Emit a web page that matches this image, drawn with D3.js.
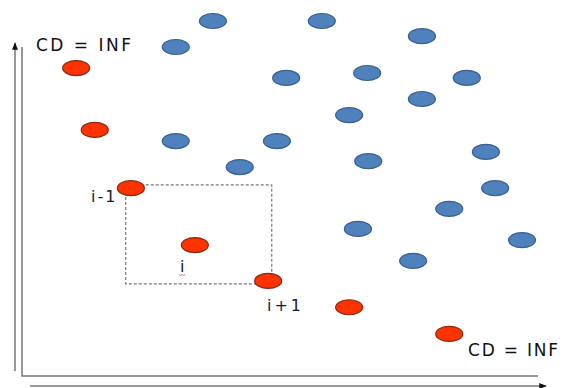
<!DOCTYPE html>
<html>
<head>
<meta charset="utf-8">
<script src="https://cdn.jsdelivr.net/npm/d3@7"></script>
<style>
  body { margin: 0; background: #fff; }
  svg { display: block; }
</style>
</head>
<body>
<div id="canvas"></div>
<script>
/*
 * Data: objective values (f1, f2)
 */
const blueX = [37.0, 58.1, 77.5, 29.8, 51.2, 66.9, 86.2, 77.5, 63.4, 29.8, 49.4, 89.9, 42.2, 67.1, 91.7, 82.8, 65.1, 96.9, 75.8];
const blueY = [107.9, 107.9, 103.3, 100.0, 90.6, 92.1, 90.6, 84.2, 79.3, 71.4, 71.4, 68.1, 63.5, 65.3, 57.1, 50.8, 44.7, 41.3, 35.0];
const frontX = [10.5, 14.1, 21.1, 33.5, 47.7, 63.4, 82.8];
const frontY = [93.6, 74.8, 57.1, 39.8, 28.9, 20.9, 12.8];
const boxX = [20.1, 48.4];
const boxY = [28.0, 58.1];

const svgWidth = 571,
  svgHeight = 388;

const svg = d3.select('#canvas').append('svg')
  .attr('width', svgWidth)
  .attr('height', svgHeight);

const xScale = d3.scaleLinear().domain([0, 100]).range([22, 538]);
const yScale = d3.scaleLinear().domain([0, 100]).range([376, 47]);

// arrow marker
svg.append('defs').append('marker')
  .attr('id', 'arrow')
  .attr('viewBox', '0 0 10 10')
  .attr('refX', 9)
  .attr('refY', 5)
  .attr('markerWidth', 5)
  .attr('markerHeight', 5)
  .attr('orient', 'auto')
  .append('path')
  .attr('d', 'M0,1 L10,5 L0,9 Z')
  .attr('fill', '#111');

// inner frame (plot axes)
svg.append('path')
  .attr('d', `M${xScale(0)},${yScale(100)} L${xScale(0)},${yScale(0)} L${xScale(100)},${yScale(0)}`)
  .attr('fill', 'none')
  .attr('stroke', '#777')
  .attr('stroke-width', 1.5);

// outer arrows
svg.append('line')
  .attr('x1', 15).attr('y1', 371)
  .attr('x2', 15).attr('y2', 43)
  .attr('stroke', '#777')
  .attr('stroke-width', 1.5)
  .attr('marker-end', 'url(#arrow)');
svg.append('line')
  .attr('x1', 30).attr('y1', 386)
  .attr('x2', 546).attr('y2', 386)
  .attr('stroke', '#777')
  .attr('stroke-width', 1.5)
  .attr('marker-end', 'url(#arrow)');

// dashed cuboid around point i
svg.append('rect')
  .attr('x', xScale(boxX[0]))
  .attr('y', yScale(boxY[1]))
  .attr('width', xScale(boxX[1]) - xScale(boxX[0]))
  .attr('height', yScale(boxY[0]) - yScale(boxY[1]))
  .attr('fill', 'none')
  .attr('stroke', '#777')
  .attr('stroke-width', 1.2)
  .attr('stroke-dasharray', '3,2');

// blue points
svg.append('g').selectAll('ellipse')
  .data(blueX.map((x, i) => [x, blueY[i]]))
  .enter().append('ellipse')
  .attr('cx', (d) => xScale(d[0]))
  .attr('cy', (d) => yScale(d[1]))
  .attr('rx', 13.5)
  .attr('ry', 7.5)
  .attr('fill', '#4F81BD')
  .attr('stroke', '#3A5F8C')
  .attr('stroke-width', 1.2);

// front points (red)
svg.append('g').selectAll('ellipse')
  .data(frontX.map((x, i) => [x, frontY[i]]))
  .enter().append('ellipse')
  .attr('cx', (d) => xScale(d[0]))
  .attr('cy', (d) => yScale(d[1]))
  .attr('rx', 13.5)
  .attr('ry', 7.5)
  .attr('fill', '#FF3300')
  .attr('stroke', '#8A2A10')
  .attr('stroke-width', 1.2);

// labels
const font = "'DejaVu Sans', sans-serif";
svg.append('text')
  .attr('x', 36).attr('y', 51)
  .style('font-family', font).style('font-size', '17px')
  .style('letter-spacing', '2.5px')
  .attr('fill', '#111')
  .text('CD = INF');
svg.append('text')
  .attr('x', 468).attr('y', 356)
  .style('font-family', font).style('font-size', '17px')
  .style('letter-spacing', '1.8px')
  .attr('fill', '#111')
  .text('CD = INF');
svg.append('text')
  .attr('x', 91).attr('y', 202)
  .style('font-family', font).style('font-size', '16px')
  .style('letter-spacing', '2px')
  .attr('fill', '#1a1a2e')
  .text('i-1');
svg.append('text')
  .attr('x', 180).attr('y', 272)
  .style('font-family', font).style('font-size', '16px')
  .attr('fill', '#1a1a2e')
  .text('i');
svg.append('path')
  .attr('d', 'M179,274.5 l1.5,1 l1.5,-1 l1.5,1 l1.5,-1')
  .attr('fill', 'none')
  .attr('stroke', '#e05050')
  .attr('stroke-width', 0.8);
svg.append('text')
  .attr('x', 267).attr('y', 311)
  .style('font-family', font).style('font-size', '16px')
  .style('letter-spacing', '3px')
  .attr('fill', '#1a1a2e')
  .text('i+1');
</script>
</body>
</html>
